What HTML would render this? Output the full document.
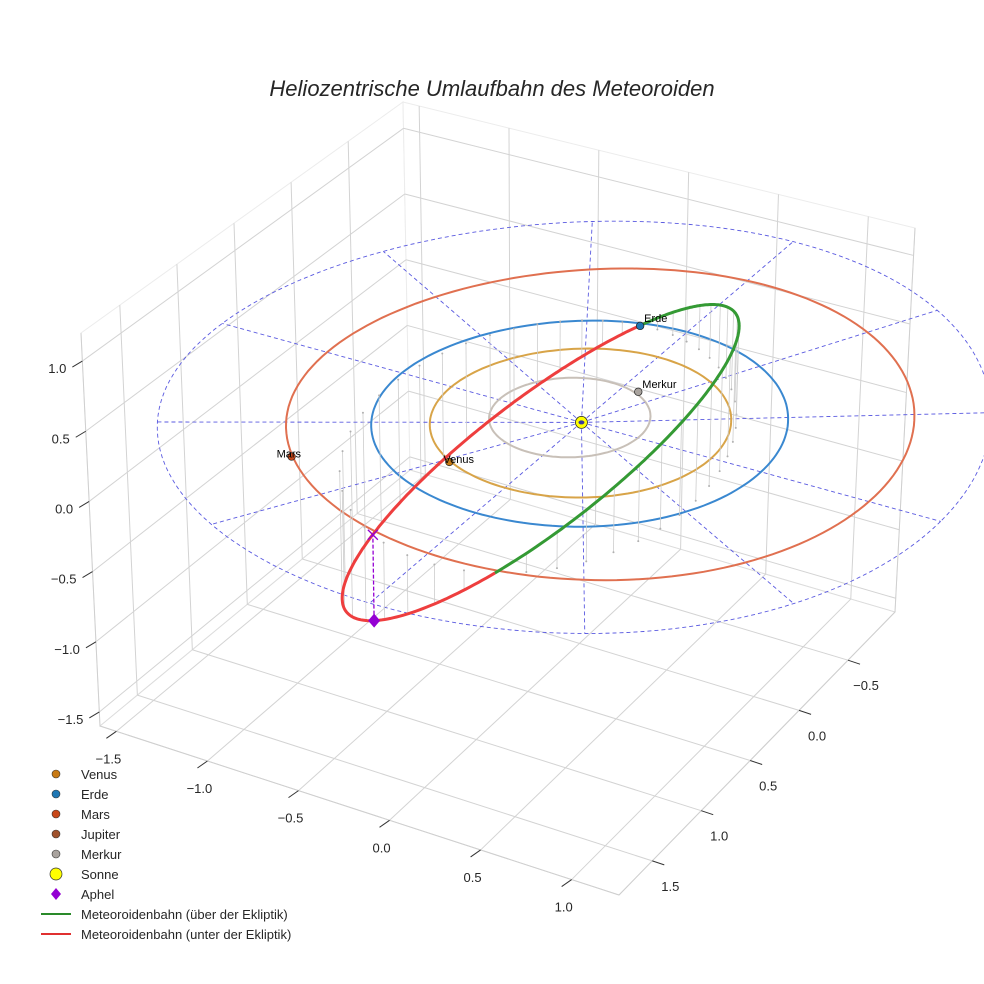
<!DOCTYPE html>
<html><head><meta charset="utf-8"><style>
html,body{margin:0;padding:0;background:#fff;}
svg{display:block;font-family:"Liberation Sans",sans-serif;}
</style></head><body>
<svg id="chart" width="984" height="984" viewBox="0 0 984 984" xmlns="http://www.w3.org/2000/svg">
<rect width="984" height="984" fill="#fff"/>
<text x="492" y="96" text-anchor="middle" font-size="22" font-style="italic" fill="#262626">Heliozentrische Umlaufbahn des Meteoroiden</text>
<g id="panes"></g><g id="grid"></g><g id="eclip"></g><g id="orbits"></g><g id="stems"></g><g id="meteor"></g><g id="markers"></g><g id="ticks"></g>
<g id="legend"></g>
</svg>
<script>
// ---- data ----
const xTicks=[-1.5,-1.0,-0.5,0.0,0.5,1.0];
const yTicks=[-0.5,0.0,0.5,1.0,1.5];
const zTicks=[-1.5,-1.0,-0.5,0.0,0.5,1.0];
const planetNames=["Venus","Erde","Mars","Merkur"];
const planetR=[0.73,0.975,1.407,0.397];
const planetLon=[119,256,136.5,-77];
const planetColors=["#c87a14","#1f77b4","#c8481a","#a9a39e"];
const orbitNames=["Merkur","Venus","Erde","Mars"];
const orbitR=[0.387,0.723,1.0,1.51];
const orbitCx=[-0.073,0,0,0.092];
const orbitCy=[-0.016,0,0,-0.06];
const orbitColors=["#c8c0b8","#d8a448","#3a88d0","#e07050"];
const gridRadii=[1.0,2.0];
const gridAngles=[0,30,60,90,120,150,180,210,240,270,300,330];
const meteorElements=[1.185,0.25,43,34,256]; // p, e, i, omega, Omega
const legendLabels=["Venus","Erde","Mars","Jupiter","Merkur","Sonne","Aphel","Meteoroidenbahn (über der Ekliptik)","Meteoroidenbahn (unter der Ekliptik)"];
const legendColors=["#c87a14","#1f77b4","#c8481a","#a0522d","#a9a39e","#ffff00","#9400d3","#2a8a2a","#e03030"];

// ---- projection (box corners) ----
const X0=-1.59,X1=1.26,Y0=-0.98,Y1=1.84,Z0=-1.6,Z1=1.2;
const B00=[410,470],B10=[895,612],B01=[100,726],B11=[619,895];
const T00=[403,102],T10=[915,228],T01=[81,333],T11=[625,480];
function bil(a,b,c,d,u,v){const p0=[a[0]+(b[0]-a[0])*u,a[1]+(b[1]-a[1])*u],p1=[c[0]+(d[0]-c[0])*u,c[1]+(d[1]-c[1])*u];return [p0[0]+(p1[0]-p0[0])*v,p0[1]+(p1[1]-p0[1])*v];}
function P(x,y,z){const u=(x-X0)/(X1-X0),v=(y-Y0)/(Y1-Y0),w=(z-Z0)/(Z1-Z0);const b=bil(B00,B10,B01,B11,u,v),t=bil(T00,T10,T01,T11,u,v);return [b[0]+(t[0]-b[0])*w,b[1]+(t[1]-b[1])*w];}
const NS="http://www.w3.org/2000/svg";
function mk(tag,attrs,parent){const e=document.createElementNS(NS,tag);for(const k in attrs)e.setAttribute(k,attrs[k]);document.getElementById(parent).appendChild(e);return e;}
function pts(arr){return arr.map(p=>p[0].toFixed(1)+","+p[1].toFixed(1)).join(" ");}

// panes
let e;
e=mk("polygon",{points:pts([P(X0,Y0,Z0),P(X0,Y1,Z0),P(X0,Y1,Z1),P(X0,Y0,Z1)]),fill:"#fff",stroke:"#ececec","stroke-width":1},"panes");


e=mk("polygon",{points:pts([P(X0,Y0,Z0),P(X1,Y0,Z0),P(X1,Y0,Z1),P(X0,Y0,Z1)]),fill:"#fff",stroke:"#ececec","stroke-width":1},"panes");


e=mk("polygon",{points:pts([P(X0,Y0,Z0),P(X1,Y0,Z0),P(X1,Y1,Z0),P(X0,Y1,Z0)]),fill:"#fff",stroke:"#dcdcdc","stroke-width":1},"panes");



function gl(a,b){const l=mk("line",{x1:a[0],y1:a[1],x2:b[0],y2:b[1],stroke:"#d3d3d3","stroke-width":1},"grid");

}
xTicks.forEach(x=>{gl(P(x,Y0,Z0),P(x,Y1,Z0));gl(P(x,Y0,Z0),P(x,Y0,Z1));});
yTicks.forEach(y=>{gl(P(X0,y,Z0),P(X1,y,Z0));gl(P(X0,y,Z0),P(X0,y,Z1));});
zTicks.forEach(z=>{gl(P(X0,Y0,z),P(X1,Y0,z));gl(P(X0,Y0,z),P(X0,Y1,z));});
// box edges
[[P(X0,Y1,Z0),P(X1,Y1,Z0)],[P(X1,Y1,Z0),P(X1,Y0,Z0)],[P(X0,Y1,Z0),P(X0,Y1,Z1)],[P(X1,Y0,Z0),P(X1,Y0,Z1)]].forEach(s=>{
const l=mk("line",{x1:s[0][0],y1:s[0][1],x2:s[1][0],y2:s[1][1],stroke:"#cfcfcf","stroke-width":1},"grid");

});

// ticks
function tick(a,dx,dy,label,lx,ly,anchor,name){
const l=mk("line",{x1:a[0],y1:a[1],x2:a[0]+dx,y2:a[1]+dy,stroke:"#333","stroke-width":1},"ticks");


const t=mk("text",{x:a[0]+lx,y:a[1]+ly,"text-anchor":anchor,"font-size":13,fill:"#262626"},"ticks");
t.textContent=label.replace("-","\u2212");

}
xTicks.forEach(x=>tick(P(x,Y1,Z0),-10,7,x.toFixed(1),-8,32,"middle","x-axis"));
yTicks.forEach(y=>tick(P(X1,y,Z0),12,4,y.toFixed(1),18,30,"middle","y-axis"));
zTicks.forEach(z=>tick(P(X0,Y1,z),-10,6,z.toFixed(1),-16,12,"end","z-axis"));

// ecliptic dashed grid
gridRadii.forEach(r=>{const a=[];for(let k=0;k<=180;k++){const t=k/180*2*Math.PI;a.push(P(r*Math.cos(t),r*Math.sin(t),0));}
const p=mk("polyline",{points:pts(a),fill:"none",stroke:"#5a5ae0","stroke-width":0.9,"stroke-dasharray":"4,3"},"eclip");

});
const Rmax=Math.max(...gridRadii);
gridAngles.forEach(g=>{const t=g*Math.PI/180,a=P(0,0,0),b=P(Rmax*Math.cos(t),Rmax*Math.sin(t),0);
const l=mk("line",{x1:a[0],y1:a[1],x2:b[0],y2:b[1],stroke:"#5a5ae0","stroke-width":0.9,"stroke-dasharray":"4,3"},"eclip");

});

// planet orbits
orbitNames.forEach((n,i)=>{const a=[];for(let k=0;k<=180;k++){const t=k/180*2*Math.PI;a.push(P(orbitCx[i]+orbitR[i]*Math.cos(t),orbitCy[i]+orbitR[i]*Math.sin(t),0));}
const p=mk("polyline",{points:pts(a),fill:"none",stroke:orbitColors[i],"stroke-width":2},"orbits");

});

// meteoroid orbit
const [pp,ec,inc,om,Om]=meteorElements;const d2r=Math.PI/180;
const nV=[Math.cos(Om*d2r),Math.sin(Om*d2r)],mV=[-nV[1],nV[0]];
function M(u){const nu=(u-om)*d2r,r=pp/(1+ec*Math.cos(nu)),cu=Math.cos(u*d2r),su=Math.sin(u*d2r),ci=Math.cos(inc*d2r),si=Math.sin(inc*d2r);
return [r*(cu*nV[0]+su*ci*mV[0]),r*(cu*nV[1]+su*ci*mV[1]),r*su*si];}
for(let u=0;u<360;u+=7.5){const q=M(u),a=P(q[0],q[1],q[2]),b=P(q[0],q[1],0);
const l=mk("line",{x1:a[0],y1:a[1],x2:b[0],y2:b[1],stroke:"#cdcdcd","stroke-width":0.8},"stems");


const c=mk("circle",{cx:b[0],cy:b[1],r:1,fill:"#b0b0b0"},"stems");

}
let above=[],below=[];
for(let u=0;u<=360;u+=1){const q=M(u),s=P(q[0],q[1],q[2]);if(u<=180)above.push(s);if(u>=180)below.push(s);}
let pl=mk("polyline",{points:pts(below),fill:"none",stroke:"#ee3e3e","stroke-width":3},"meteor");


pl=mk("polyline",{points:pts(above),fill:"none",stroke:"#349a34","stroke-width":3},"meteor");



// aphel
const ap=M(om+180),apS=P(ap[0],ap[1],ap[2]),ap0=P(ap[0],ap[1],0);
let l2=mk("line",{x1:apS[0],y1:apS[1],x2:ap0[0],y2:ap0[1],stroke:"#9400d3","stroke-width":1.3,"stroke-dasharray":"4,2"},"markers");


let cx=mk("path",{d:`M${ap0[0]-5},${ap0[1]-5}L${ap0[0]+5},${ap0[1]+5}M${ap0[0]-5},${ap0[1]+5}L${ap0[0]+5},${ap0[1]-5}`,stroke:"#9400d3","stroke-width":1.3},"markers");


let dm=mk("polygon",{points:`${apS[0]},${apS[1]-7} ${apS[0]+6},${apS[1]} ${apS[0]},${apS[1]+7} ${apS[0]-6},${apS[1]}`,fill:"#9400d3"},"markers");



// planets
planetNames.forEach((n,i)=>{const t=planetLon[i]*d2r,s=P(planetR[i]*Math.cos(t),planetR[i]*Math.sin(t),0);
const c=mk("circle",{cx:s[0],cy:s[1],r:3.8,fill:planetColors[i],stroke:"#222","stroke-width":0.7},"markers");


const tx=mk("text",{x:s[0]+(n==="Mars"?-15:n==="Venus"?-6:4),y:s[1]-(n==="Venus"||n==="Mars"?-1:4),"font-size":11,fill:"#000"},"markers");
tx.textContent=n;

});
const sun=P(0,0,0);
let sc=mk("circle",{cx:sun[0],cy:sun[1],r:6,fill:"#ffff00",stroke:"#222","stroke-width":0.8},"markers");


let sd=mk("ellipse",{cx:sun[0],cy:sun[1],rx:3,ry:2,fill:"#3a3aa0"},"markers");



// legend
legendLabels.forEach((lab,i)=>{const y=774+i*20;
let m;
if(i<5){m=mk("circle",{cx:56,cy:y,r:4,fill:legendColors[i],stroke:"#333","stroke-width":0.6},"legend");}
else if(i===5){m=mk("circle",{cx:56,cy:y,r:6,fill:legendColors[i],stroke:"#333","stroke-width":0.7},"legend");}
else if(i===6){m=mk("polygon",{points:`56,${y-6} 61,${y} 56,${y+6} 51,${y}`,fill:legendColors[i]},"legend");}
else{m=mk("line",{x1:41,y1:y,x2:71,y2:y,stroke:legendColors[i],"stroke-width":2},"legend");}


const t=mk("text",{x:81,y:y+5,"font-size":13,fill:"#262626"},"legend");
t.textContent=lab;

});
</script>
</body></html>
